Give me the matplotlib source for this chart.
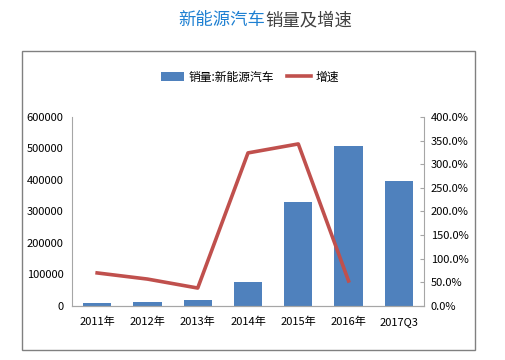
import numpy as np
import matplotlib.pyplot as plt
from matplotlib.patches import Rectangle
from matplotlib.ticker import FuncFormatter

plt.rcParams['font.family'] = ['Noto Sans CJK SC', 'DejaVu Sans']

years = ["2011年", "2012年", "2013年", "2014年", "2015年", "2016年", "2017Q3"]
sales = [8200, 12800, 17600, 75000, 331000, 507000, 398000]
growth_years = years[:6]
growth = [70.0, 57.0, 38.0, 324.0, 343.0, 53.0]

bar_color = "#4F81BD"
line_color = "#C0504D"
axis_color = "#A6A6A6"

fig = plt.figure(figsize=(5.06, 3.6), dpi=100)

# outer frame
fig.patches.append(Rectangle((22 / 506, 1 - 350 / 360), 453 / 506, 299 / 360,
                             transform=fig.transFigure, fill=False,
                             edgecolor="#808080", linewidth=1.0))

# title: two colours
fig.text(265 / 506, 1 - 20 / 360, "新能源汽车", color="#1E80D2", fontsize=12.5,
         ha="right", va="center")
fig.text(265 / 506, 1 - 20 / 360, "销量及增速", color="#404040", fontsize=12.5,
         ha="left", va="center")

ax = fig.add_axes([72 / 506, 1 - 306 / 360, 352 / 506, 189 / 360])
x = np.arange(len(years))
bars = ax.bar(x, sales, width=0.56, color=bar_color, label="销量:新能源汽车", zorder=2)
ax.set_xlim(-0.5, len(years) - 0.5)
ax.set_ylim(0, 600000)
ax.set_yticks(np.arange(0, 600001, 100000))
ax.set_xticks(x)
ax.set_xticklabels(years)

ax2 = ax.twinx()
ax2.plot(np.arange(len(growth_years)), growth, color=line_color, linewidth=2.6,
         label="增速", zorder=3)
ax2.set_ylim(0, 400)
ax2.set_yticks(np.arange(0, 401, 50))
ax2.yaxis.set_major_formatter(FuncFormatter(lambda v, p: "%.1f%%" % v))

for a in (ax, ax2):
    a.spines["top"].set_visible(False)
    for s in ("left", "right", "bottom"):
        a.spines[s].set_color(axis_color)
    a.tick_params(labelsize=8, colors=axis_color, labelcolor="#000000", length=3)
ax.tick_params(axis="x", length=0, pad=8)
ax2.spines["left"].set_visible(False)
ax.spines["right"].set_visible(False)
ax2.tick_params(axis="y", direction="in", pad=5)
ax.tick_params(axis="y", length=0, pad=6)

handles = [bars, ax2.get_lines()[0]]
fig.legend(handles, ["销量:新能源汽车", "增速"], loc="center",
           bbox_to_anchor=(250 / 506, 1 - 77 / 360), ncol=2, frameon=False,
           fontsize=8.5, handlelength=2.0, columnspacing=1.1, handletextpad=0.4)

fig.savefig("out.png", dpi=100)
